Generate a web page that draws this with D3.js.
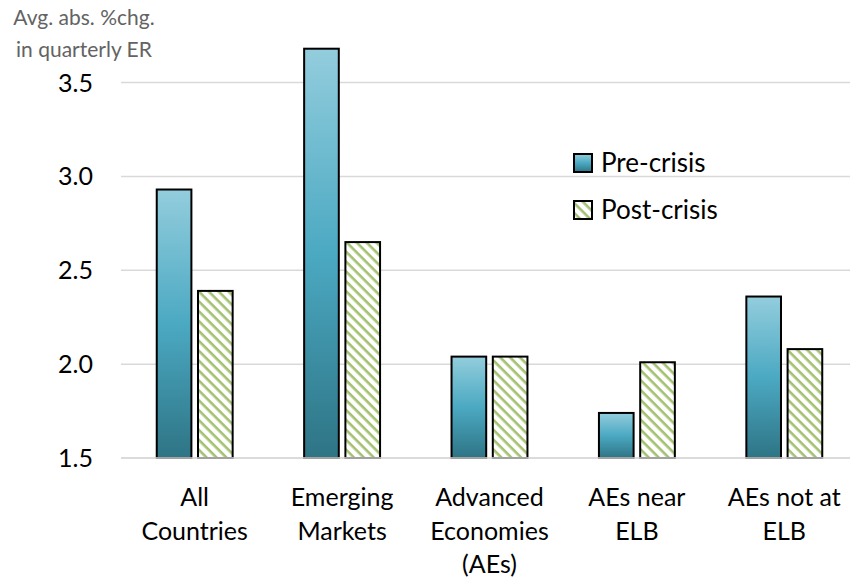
<!DOCTYPE html>
<html>
<head>
<meta charset="utf-8">
<script src="https://cdn.jsdelivr.net/npm/d3@7"></script>
<style>
  body { margin: 0; background: #fff; }
  svg { font-family: Lato, "Open Sans", sans-serif; }
</style>
</head>
<body>
<div id="chart"></div>
<script>
// chart data
const categories = [
    ["All", "Countries"],
    ["Emerging", "Markets"],
    ["Advanced", "Economies", "(AEs)"],
    ["AEs near", "ELB"],
    ["AEs not at", "ELB"]
];
const preCrisis = [2.93, 3.68, 2.04, 1.74, 2.36];
const postCrisis = [2.39, 2.65, 2.04, 2.01, 2.08];
const seriesNames = ["Pre-crisis", "Post-crisis"];
const yTicks = [1.5, 2.0, 2.5, 3.0, 3.5];

const width = 850, height = 583;

let svg = d3.select("#chart").append("svg")
    .attr("width", width)
    .attr("height", height);

let defs = svg.append("defs");

let grad = defs.append("linearGradient")
    .attr("id", "preGrad")
    .attr("x1", 0).attr("y1", 0).attr("x2", 0).attr("y2", 1);
grad.append("stop").attr("offset", "0%").attr("stop-color", "#93cddd");
grad.append("stop").attr("offset", "50%").attr("stop-color", "#4ba9c2");
grad.append("stop").attr("offset", "100%").attr("stop-color", "#2e7485");

let pat = defs.append("pattern")
    .attr("id", "postPat")
    .attr("patternUnits", "userSpaceOnUse")
    .attr("width", 7).attr("height", 7)
    .attr("patternTransform", "rotate(45)");
pat.append("rect").attr("width", 7).attr("height", 7).attr("fill", "#fff");
pat.append("rect").attr("x", 0).attr("y", 0).attr("width", 7).attr("height", 2.6).attr("fill", "#a3c170");

let y = d3.scaleLinear()
    .domain([1.5, 3.5])
    .range([458, 82.5]);

let x0 = d3.scaleBand()
    .domain(d3.range(categories.length))
    .range([121, 858])
    .paddingInner(0.485)
    .paddingOuter(0.2425);

let x1 = d3.scaleBand()
    .domain([0, 1])
    .range([0, x0.bandwidth()])
    .paddingInner(0.16);

// gridlines
svg.append("g")
    .selectAll("line")
    .data(yTicks)
    .join("line")
    .attr("x1", 121)
    .attr("x2", width)
    .attr("y1", d => y(d))
    .attr("y2", d => y(d))
    .attr("stroke", "#d9d9d9")
    .attr("stroke-width", 1.5);

// y tick labels
svg.append("g")
    .selectAll("text")
    .data(yTicks)
    .join("text")
    .attr("x", 93)
    .attr("y", d => y(d))
    .attr("dy", "0.36em")
    .attr("text-anchor", "end")
    .attr("font-size", 25)
    .attr("fill", "#000")
    .text(d => d.toFixed(1));

// axis title
svg.append("text")
    .attr("x", 84)
    .attr("y", 25)
    .attr("text-anchor", "middle")
    .attr("font-size", 21)
    .attr("fill", "#636363")
    .text("Avg. abs. %chg.");
svg.append("text")
    .attr("x", 84)
    .attr("y", 57)
    .attr("text-anchor", "middle")
    .attr("font-size", 21)
    .attr("fill", "#636363")
    .text("in quarterly ER");

// bars
let rows = categories.map((c, i) => [preCrisis[i], postCrisis[i]]);

let groups = svg.append("g")
    .selectAll("g")
    .data(rows)
    .join("g")
    .attr("transform", (d, i) => "translate(" + x0(i) + ",0)");

groups.selectAll("rect")
    .data(d => d)
    .join("rect")
    .attr("x", (d, j) => x1(j))
    .attr("y", d => y(d))
    .attr("width", x1.bandwidth())
    .attr("height", d => y(1.5) - y(d))
    .attr("fill", (d, j) => j === 0 ? "url(#preGrad)" : "url(#postPat)")
    .attr("stroke", "#000")
    .attr("stroke-width", 2);

// baseline on top
svg.append("line")
    .attr("x1", 121).attr("x2", width)
    .attr("y1", y(1.5)).attr("y2", y(1.5))
    .attr("stroke", "#d9d9d9")
    .attr("stroke-width", 1.5);

// category labels
let labels = svg.append("g")
    .selectAll("text")
    .data(categories)
    .join("text")
    .attr("x", (d, i) => x0(i) + x0.bandwidth() / 2)
    .attr("y", 497)
    .attr("text-anchor", "middle")
    .attr("font-size", 25)
    .attr("fill", "#000");

labels.selectAll("tspan")
    .data(d => d)
    .join("tspan")
    .attr("x", function() { return d3.select(this.parentNode).attr("x"); })
    .attr("dy", (d, k) => k === 0 ? "0.36em" : "33.5")
    .text(d => d);

// legend
let legend = svg.append("g")
    .selectAll("g")
    .data(seriesNames)
    .join("g")
    .attr("transform", (d, i) => "translate(574," + (154 + i * 47) + ")");

legend.append("rect")
    .attr("width", 18)
    .attr("height", 18)
    .attr("fill", (d, i) => i === 0 ? "url(#preGrad)" : "url(#postPat)")
    .attr("stroke", "#000")
    .attr("stroke-width", 2);

legend.append("text")
    .attr("x", 27)
    .attr("y", 9)
    .attr("dy", "0.36em")
    .attr("font-size", 26)
    .attr("fill", "#000")
    .text(d => d);
</script>
</body>
</html>
